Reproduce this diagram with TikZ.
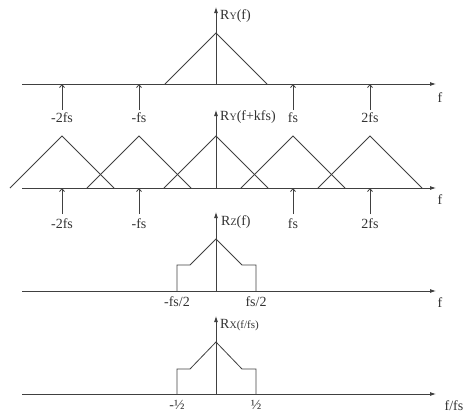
\documentclass[tikz,border=0pt]{standalone}
\usepackage{fontspec}
\setmainfont{Liberation Serif}
\usetikzlibrary{arrows.meta}
\begin{document}
\begin{tikzpicture}[x=1pt,y=-1pt,
  ln/.style={draw=black!75,line width=0.8pt},
  axis/.style={ln,-{Latex[length=6pt,width=4pt]}},
  pulse/.style={ln,-{Straight Barb[length=3pt,width=5pt]}},
  lbl/.style={text=black!80,font=\fontsize{14}{16}\selectfont,inner sep=0pt},
  ylbl/.style={lbl,anchor=west}]
\useasboundingbox (0,0) rectangle (464,413);
% axes origins
\foreach \n/\y in {1/84,2/188,3/291,4/394}{
  \coordinate (L\n) at (22,\y);
  \coordinate (R\n) at (436,\y);
  \coordinate (O\n) at (216,\y);
  \draw[axis] (L\n) -- (R\n);
}
\coordinate (T1) at (216,7);
\coordinate (T2) at (216,110);
\coordinate (T3) at (216,212);
\coordinate (T4) at (216,316);
\foreach \n in {1,2,3,4}{\draw[axis] (O\n) -- (T\n);}
% panel 1 triangle
\coordinate (a1) at (165,84); \coordinate (p1) at (216,33); \coordinate (b1) at (267,84);
\draw[ln] (a1) -- (p1) -- (b1);
% panel 2 triangles
\foreach \x [count=\i] in {62,139,216,293,370}{
  \coordinate (ta\i) at (\x-52,188);
  \coordinate (tp\i) at (\x,136);
  \coordinate (tb\i) at (\x+52,188);
  \draw[ln] (ta\i) -- (tp\i) -- (tb\i);
}
% pulses and labels
\foreach \x/\t in {62/-2fs,139/-fs,293/fs,370/2fs}{
  \coordinate (pa\x) at (\x,110); \coordinate (pb\x) at (\x,84);
  \draw[pulse] (pa\x) -- (pb\x);
  \node[lbl] (la\x) at (\x,118) {\t};
  \coordinate (qa\x) at (\x,214); \coordinate (qb\x) at (\x,188);
  \draw[pulse] (qa\x) -- (qb\x);
  \node[lbl] (lb\x) at (\x,224) {\t};
}
% panel 3 and 4 shapes
\foreach \n/\yb/\ys/\yp in {3/291/265/239,4/394/369/342}{
  \coordinate (s1\n) at (177,\yb); \coordinate (s2\n) at (177,\ys);
  \coordinate (s3\n) at (190,\ys); \coordinate (s4\n) at (216,\yp);
  \coordinate (s5\n) at (242,\ys); \coordinate (s6\n) at (256,\ys);
  \coordinate (s7\n) at (256,\yb);
  \draw[ln] (s1\n) -- (s2\n) -- (s3\n) -- (s4\n) -- (s5\n) -- (s6\n) -- (s7\n);
}
% axis labels
\node[ylbl] (y1) at (220,16) {R{\fontsize{10}{10}\selectfont Y}(f)};
\node[ylbl] (y2) at (220,117) {R{\fontsize{10}{10}\selectfont Y}(f+kfs)};
\node[ylbl] (y3) at (221,222) {R{\fontsize{10}{10}\selectfont Z}(f)};
\node[ylbl] (y4) at (220,325) {R{\fontsize{10}{10}\selectfont X}{\fontsize{11}{11}\selectfont(f/fs)}};
\node[lbl] (f1) at (440,98) {f};
\node[lbl] (f2) at (440,200) {f};
\node[lbl] (f3) at (440,303) {f};
\node[lbl] (f4) at (454,406) {f/fs};
\node[lbl] (h1) at (177,302) {-fs/2};
\node[lbl] (h2) at (256,302) {fs/2};
\node[lbl] (h3) at (177,405) {-½};
\node[lbl] (h4) at (256,405) {½};
\end{tikzpicture}
\end{document}
